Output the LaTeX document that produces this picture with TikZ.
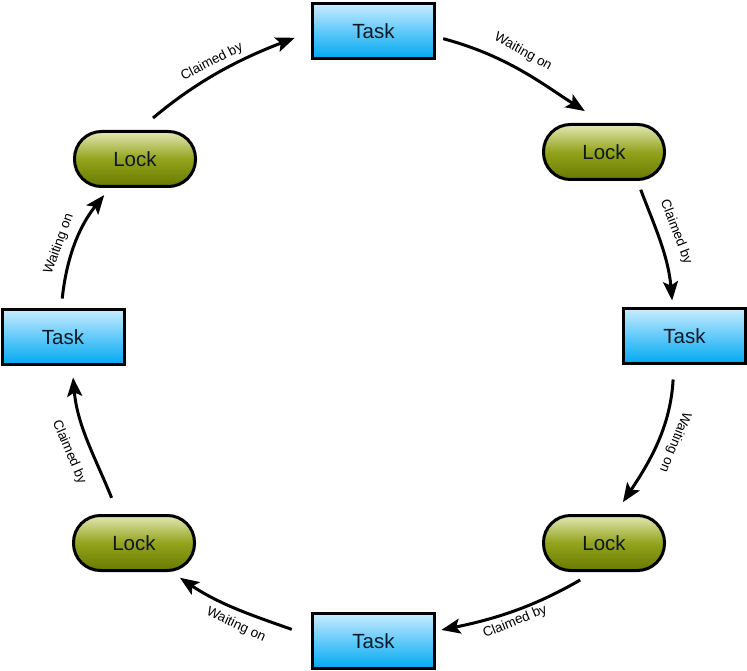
\documentclass[tikz,border=0pt]{standalone}
\usepackage{fontspec}
\setmainfont{Liberation Sans}
\usetikzlibrary{arrows.meta}
\definecolor{taskTop}{HTML}{C8EDFF}
\definecolor{taskMid}{HTML}{62C9FA}
\definecolor{taskBot}{HTML}{00A9F0}
\definecolor{lockTop}{HTML}{E2E8B5}
\definecolor{lockMid}{HTML}{93A31C}
\definecolor{lockBot}{HTML}{687A00}
\definecolor{txt}{HTML}{0E1824}
\tikzset{
  taskbox/.style={draw=black, line width=3pt, outer sep=0pt, inner sep=0pt,
    minimum width=122pt, minimum height=55pt,
    top color=taskTop, bottom color=taskBot, middle color=taskMid,
    text=txt, font=\fontsize{20.5}{24}\selectfont},
  lockbox/.style={draw=black, line width=3pt, outer sep=0pt, inner sep=0pt,
    rounded corners=27pt, minimum width=121pt, minimum height=55pt,
    top color=lockTop, bottom color=lockBot, middle color=lockMid,
    text=txt, font=\fontsize{20.5}{24}\selectfont},
  arr/.style={line width=3pt, -{Stealth[length=19pt,width=15pt,inset=4pt]}},
  lbl/.style={font=\fontsize{13.5}{16}\selectfont, inner sep=0pt}
}
\begin{document}
\begin{tikzpicture}[x=1pt,y=1pt]
\useasboundingbox (0,0) rectangle (747,-671);
% nodes
\node[taskbox] (taskT) at (373.5,-31) {Task};
\node[lockbox] (lockTR) at (604,-152) {Lock};
\node[taskbox] (taskR) at (684.5,-336) {Task};
\node[lockbox] (lockBR) at (604,-543) {Lock};
\node[taskbox] (taskB) at (373.5,-641) {Task};
\node[lockbox] (lockBL) at (134,-543) {Lock};
\node[taskbox] (taskL) at (63,-337) {Task};
\node[lockbox] (lockTL) at (135,-159) {Lock};
% connectors
\draw[arr, shorten <=21pt, shorten >=19pt] (lockTL.86) to[out=40, in=201] (taskT.180);
\draw[arr, shorten <=9pt, shorten >=25pt] (taskT.-5) to[out=-15, in=147.5] (lockTR.86);
\draw[arr, shorten <=11pt, shorten >=8pt] (lockTR.-40) to[out=-69, in=95] (taskR.113);
\draw[arr, shorten <=16pt, shorten >=16pt] (taskR.249) to[out=-93, in=56.3] (lockBR.70);
\draw[arr, shorten <=19pt, shorten >=7pt] (lockBR.255) to[out=-150, in=11.5] (taskB.9);
\draw[arr, shorten <=22pt, shorten >=13pt] (taskB.176) to[out=160.5, in=-34] (lockBL.-38);
\draw[arr, shorten <=19pt, shorten >=13pt] (lockBL.119) to[out=112, in=-85] (taskL.-72);
\draw[arr, shorten <=11pt, shorten >=11pt] (taskL.94) to[out=84, in=231.3] (lockTL.229);
% labels
\node[lbl, rotate=27] (l1) at (212,-62) {Claimed by};
\node[lbl, rotate=-29] (l2) at (523,-52) {Waiting on};
\node[lbl, rotate=-69] (l3) at (676,-232) {Claimed by};
\node[lbl, rotate=-112] (l4) at (675,-442) {Waiting on};
\node[lbl, rotate=22] (l5) at (515,-622) {Claimed by};
\node[lbl, rotate=-25] (l6) at (236,-625) {Waiting on};
\node[lbl, rotate=-67] (l7) at (69,-452) {Claimed by};
\node[lbl, rotate=70] (l8) at (59,-244) {Waiting on};
\end{tikzpicture}
\end{document}
